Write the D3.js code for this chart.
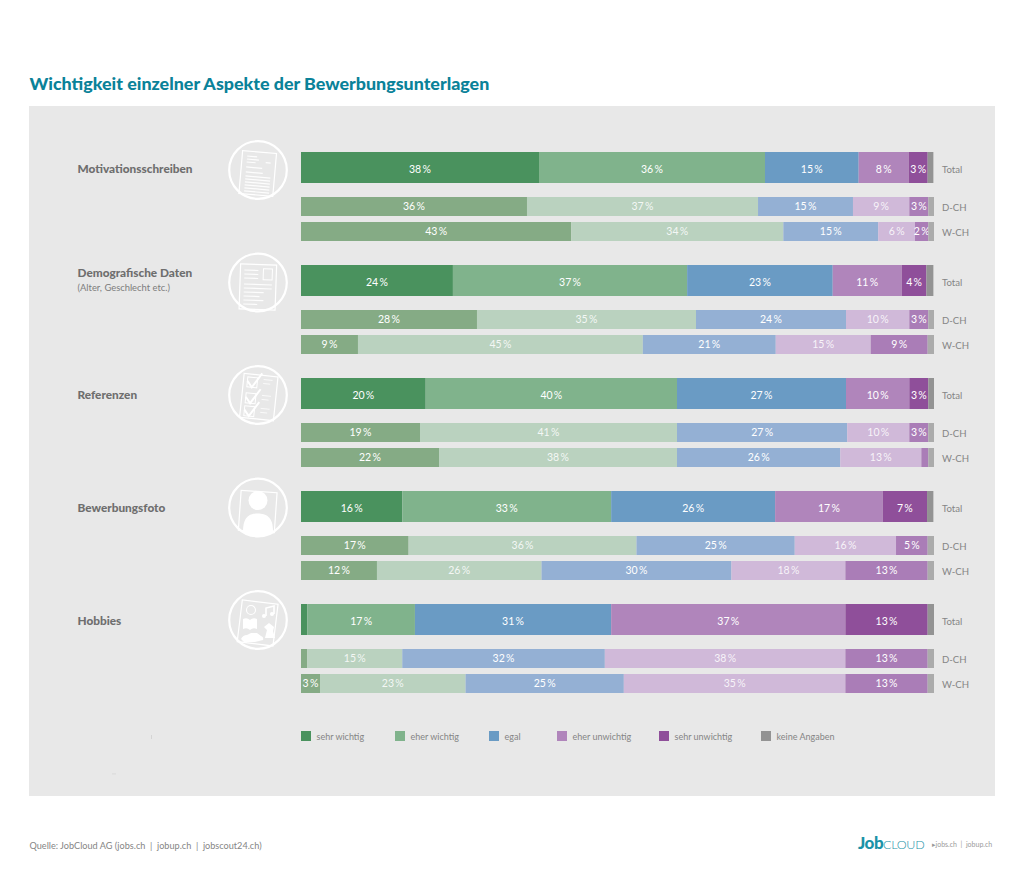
<!DOCTYPE html>
<html><head><meta charset="utf-8">
<script src="https://cdn.jsdelivr.net/npm/d3@7"></script>
<style>html,body{margin:0;padding:0;background:#fff}svg{display:block}text{font-family:Lato,sans-serif;white-space:pre}</style>
</head><body><svg id="c" width="1024" height="878"></svg>
<script>
const categories=["Motivationsschreiben","Demografische Daten","Referenzen","Bewerbungsfoto","Hobbies"];
const subtitles=["","(Alter, Geschlecht etc.)","","",""];
const regions=["Total","D-CH","W-CH"];
const seriesNames=["sehr wichtig","eher wichtig","egal","eher unwichtig","sehr unwichtig","keine Angaben"];
// each series: 15 values, three rows (Total, D-CH, W-CH) per category
const sehrWichtig=[37.6,35.7,42.7, 24,27.8,9, 19.7,18.8,21.8, 16,17,12, 1,1,3];
const eherWichtig=[35.7,36.5,33.5, 37,34.6,45, 39.7,40.6,37.6, 33,36,26, 17,15,23];
const egal=[14.8,15,15, 23,23.7,21, 26.7,26.9,25.8, 25.9,25,30, 31,32,25];
const eherUnwichtig=[7.9,8.9,5.8, 10.9,10,15, 10,9.8,12.8, 17,16,18, 37,38,35];
const sehrUnwichtig=[3,3,2.1, 3.9,3,9, 3,3,1.1, 7,5,13, 13,13,13];
const keineAngaben=[0.9,0.9,0.9, 1.1,0.9,1, 0.9,0.9,0.9, 1,1,1, 1,1,1];
const totalColors=["#4a925e","#80b38c","#6a9bc4","#b085bb","#8f4f9a","#939393"];
const regionColors=["#85ab85","#bad2bf","#94b0d4","#d0b9d9","#aa7db7","#ababab"];

const svg=d3.select("#c");
svg.append("rect").attr("x",29).attr("y",106).attr("width",966).attr("height",690).attr("fill","#e8e8e8");
svg.append("text").attr("x",29.5).attr("y",89.5).attr("font-size",17.85).attr("font-weight",900).attr("fill","#0a8299").text("Wichtigkeit einzelner Aspekte der Bewerbungsunterlagen");

const x=d3.scaleLinear().domain([0,100]).range([301,934]);
const groupY=d3.scalePoint().domain(categories).range([152,604]);
const iconY=d3.scalePoint().domain(categories).range([170,620]);
const rowTop={"Total":0,"D-CH":45,"W-CH":70};
const rowH={"Total":31,"D-CH":19,"W-CH":19};
const rows=[];
categories.forEach((c,ci)=>regions.forEach((r,ri)=>{
  const i=ci*3+ri;
  rows.push({category:c,region:r,"sehr wichtig":sehrWichtig[i],"eher wichtig":eherWichtig[i],"egal":egal[i],"eher unwichtig":eherUnwichtig[i],"sehr unwichtig":sehrUnwichtig[i],"keine Angaben":keineAngaben[i]});
}));
const stackData=d3.stack().keys(seriesNames)(rows);
const rowY=d=>groupY(d.data.category)+rowTop[d.data.region];
const g=svg.append("g");
stackData.forEach((s,si)=>{
  const sg=g.append("g");
  sg.selectAll("rect").data(s).join("rect")
    .attr("x",d=>x(d[0])).attr("width",d=>x(d[1])-x(d[0]))
    .attr("y",rowY).attr("height",d=>rowH[d.data.region])
    .attr("fill",d=>d.data.region==="Total"?totalColors[si]:regionColors[si]);
  if(si<5){
    sg.selectAll("text").data(s.filter(d=>d[1]-d[0]>=1.5)).join("text")
      .attr("x",d=>(x(d[0])+x(d[1]))/2)
      .attr("y",d=>rowY(d)+rowH[d.data.region]/2+(d.data.region==="Total"?5:3.3))
      .attr("text-anchor","middle").attr("font-size",10.5).attr("fill","#fff")
      .attr("fill-opacity",d=>d.data.region!=="Total"&&(si===1||si===3)?0.85:1)
      .text(d=>Math.round(d[1]-d[0])+"\u2009%");
  }
});
// row labels
svg.append("g").selectAll("text").data(rows).join("text")
  .attr("x",942).attr("y",d=>groupY(d.category)+rowTop[d.region]+rowH[d.region]/2+(d.region==="Total"?5:4.5))
  .attr("font-size",9.6).attr("fill","#858585").text(d=>d.region);
// category labels
svg.append("g").selectAll("text").data(categories).join("text")
  .attr("x",77.5).attr("y",(c,i)=>groupY(c)+(subtitles[i]?12:20.5)).attr("font-size",11.8).attr("font-weight",900).attr("fill","#6e6e6e").text(c=>c);
svg.append("g").selectAll("text").data(categories.filter((c,i)=>subtitles[i])).join("text")
  .attr("x",77.5).attr("y",c=>groupY(c)+26).attr("font-size",9.4).attr("fill","#7d7d7d").text(c=>subtitles[categories.indexOf(c)]);

// icons
const W="#fff";
const icon=svg.append("g").selectAll("g").data(categories).join("g")
  .attr("transform",c=>`translate(258,${iconY(c)})`).attr("fill","none").attr("stroke",W);
icon.append("circle").attr("r",28.8).attr("stroke-width",2.2);
function paper(sel,rot){
  return sel.append("g").attr("transform",`rotate(${rot})`).attr("stroke-width",1);
}
function lines(s,arr,w){arr.forEach(a=>s.append("line").attr("x1",a[0]).attr("x2",a[1]).attr("y1",a[2]).attr("y2",a[2]).attr("stroke-width",w||1.2).attr("stroke-opacity",.9));}
// 0 letter
let p=paper(d3.select(icon.nodes()[0]),5);
p.append("path").attr("d","M-17,-18H17V25H-17Z").attr("stroke-width",1.2);
lines(p,[[-12,-2,-13],[-12,0,-10],[-12,-3,-7],[7,12,-8],[-12,4,-2],[-12,5,3],[-12,13,7],[-12,13,10],[-12,13,13],[-12,13,16],[-12,13,19],[-12,13,22]]);
// 1 CV
p=paper(d3.select(icon.nodes()[1]),2);
p.append("path").attr("d","M-18,-18H18V27H-18Z").attr("stroke-width",1.2);
p.append("rect").attr("x",5).attr("y",-14).attr("width",9).attr("height",11);
lines(p,[[-14,0,-12],[-14,0,-8],[-14,0,-4],[-14,14,2],[-14,14,6],[-14,6,10],[-14,2,14],[-14,6,18],[-14,0,22]]);
// 2 checklist
p=paper(d3.select(icon.nodes()[2]),6);
p.append("path").attr("d","M-16,-20H18V24H-16Z").attr("stroke-width",1.2);
[-10,6,19].forEach(y=>{
  p.append("rect").attr("x",-12).attr("y",y-7).attr("width",10).attr("height",10);
  p.append("path").attr("d",`M-12,${y-3}L-7,${y+3}L2,${y-12}`).attr("stroke-width",2);
  lines(p,[[4,13,y-6],[4,11,y-2]],.8);
});
// 3 photo
p=paper(d3.select(icon.nodes()[3]),4);
p.append("path").attr("d","M-18,-16H18V24H-18Z").attr("stroke-width",1.2);
const n3=d3.select(icon.nodes()[3]);
n3.append("circle").attr("cy",-7).attr("r",9.5).attr("fill",W).attr("stroke","none");
n3.append("path").attr("d","M-15,24C-15,9 -8,6 0,6C8,6 15,9 15,24Q0,34 -15,24Z").attr("fill",W).attr("stroke","none");
// 4 hobbies
p=paper(d3.select(icon.nodes()[4]),7);
p.append("path").attr("d","M-18,-18H18V24H-18Z").attr("stroke-width",1.2);
const n4=d3.select(icon.nodes()[4]);
n4.append("circle").attr("cx",-7).attr("cy",-10).attr("r",4.5).attr("stroke-width",1.1);
n4.append("path").attr("d","M8,-4V-12L16,-14V-6").attr("stroke-width",1.6);
n4.append("circle").attr("cx",6).attr("cy",-4).attr("r",2).attr("fill",W).attr("stroke","none");
n4.append("circle").attr("cx",14).attr("cy",-6).attr("r",2).attr("fill",W).attr("stroke","none");
n4.append("path").attr("d","M-15,-1Q-11,-3 -8,0Q-5,-3 -1,-1V9Q-5,7 -8,10Q-11,7 -15,9Z").attr("fill",W).attr("stroke","none");
n4.append("path").attr("d","M7,18L9,10L6,7L11,3L16,7L15,11L17,18Z").attr("fill",W).attr("stroke","none");
n4.append("path").attr("d","M-17,19Q-15,15 -11,15L-7,13H-1L3,16Q6,17 5,20L-3,22H-14Z").attr("fill",W).attr("stroke","none");

// legend
const legendX=d3.scaleOrdinal().domain(seriesNames).range([301,395,489,557,659,761]);
const leg=svg.append("g").selectAll("g").data(seriesNames).join("g").attr("transform",n=>`translate(${legendX(n)},731)`);
leg.append("rect").attr("width",10).attr("height",10).attr("fill",(n,i)=>totalColors[i]);
leg.append("text").attr("x",15.5).attr("y",9).attr("font-size",9).attr("fill","#858585").text(n=>n);
// faint specks on the panel
svg.append("rect").attr("x",151).attr("y",735).attr("width",.8).attr("height",4).attr("fill","#cfcfcf");
svg.append("rect").attr("x",112).attr("y",773.5).attr("width",4).attr("height",.8).attr("fill","#d5d5d5");

// footer
svg.append("text").attr("x",29.5).attr("y",849).attr("font-size",9.15).attr("fill","#858585").text("Quelle: JobCloud AG (jobs.ch  |  jobup.ch  |  jobscout24.ch)");
const logo=svg.append("text").attr("x",858).attr("y",848.5).attr("fill","#1a93a8");
logo.append("tspan").attr("font-size",17).attr("font-weight",900).attr("letter-spacing",-.5).text("Job");
logo.append("tspan").attr("font-size",12.5).attr("font-weight",300).attr("letter-spacing",-.3).text("CLOUD");
svg.append("text").attr("x",931.5).attr("y",846.5).attr("font-size",7).attr("fill","#9a9a9a").text("▸jobs.ch  |  jobup.ch");
</script></body></html>
